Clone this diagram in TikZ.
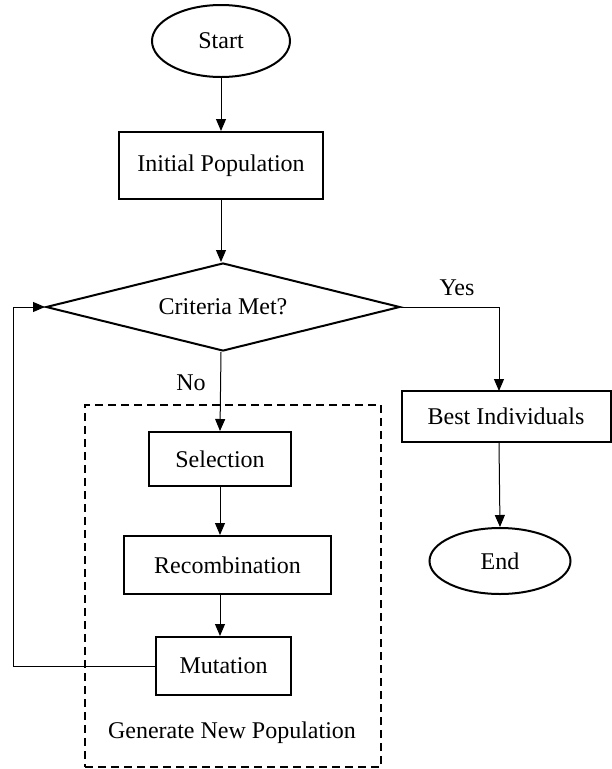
\documentclass[tikz,border=0pt]{standalone}
\usepackage{fontspec}
\setmainfont{Liberation Serif}
\usetikzlibrary{shapes.geometric,arrows.meta}
\begin{document}
\begin{tikzpicture}[x=1pt,y=-1pt,
  every node/.style={font=\fontsize{24}{28}\selectfont, inner sep=0pt},
  procbox/.style={draw, line width=2pt, rectangle},
  termbox/.style={draw, line width=2pt, ellipse},
  decbox/.style={draw, line width=2pt, diamond, aspect=4.02},
  conn/.style={draw, line width=1pt, -{Triangle[length=12pt,width=10pt]}},
  plainconn/.style={draw, line width=1pt},
  groupbox/.style={draw, line width=2pt, dash pattern=on 8pt off 5pt},
  lbl/.style={}]
\useasboundingbox (0,0) rectangle (612,769);
\fill[white] (0,0) rectangle (612,769);

\node[termbox, minimum width=138pt, minimum height=72pt] (start) at (221,41) {Start};
\node[procbox, minimum width=204pt, minimum height=67pt] (init) at (221,165.5) {Initial Population};
\node[decbox, minimum width=354pt, minimum height=88pt] (crit) at (223,307) {Criteria Met?};
\node[groupbox, minimum width=296pt, minimum height=362pt] (grp) at (233,586) {};
\node[procbox, minimum width=142pt, minimum height=54pt] (sel) at (220,459) {Selection};
\node[procbox, minimum width=207pt, minimum height=58pt] (rec) at (227.5,565) {Recombination};
\node[procbox, minimum width=135pt, minimum height=58pt] (mut) at (223.5,666) {Mutation};
\node[lbl] (gen) at (232,733) {Generate New Population};
\node[procbox, minimum width=209pt, minimum height=51pt] (best) at (506,416.5) {Best Individuals};
\node[termbox, minimum width=141pt, minimum height=66pt] (end) at (500,561) {End};
\node[lbl] (no) at (191,383) {No};
\node[lbl] (yes) at (457,288) {Yes};
\coordinate (bt) at (499,391);
\coordinate (lp) at (13,665);

\draw[conn] (start.south) -- (init.north);
\draw[conn] (init.south) -- (init.south |- crit.north);
\draw[conn] (crit.south -| init.south) -- (sel.north);
\draw[conn] (sel.south) -- (sel.south |- rec.north);
\draw[conn] (sel.south |- rec.south) -- (sel.south |- mut.north);
\draw[conn] (mut.west) -- (mut.west -| lp) |- (crit.west);
\draw[conn] (crit.east) -| (bt);
\draw[conn] (bt |- best.south) -- (end.north);
\end{tikzpicture}
\end{document}
